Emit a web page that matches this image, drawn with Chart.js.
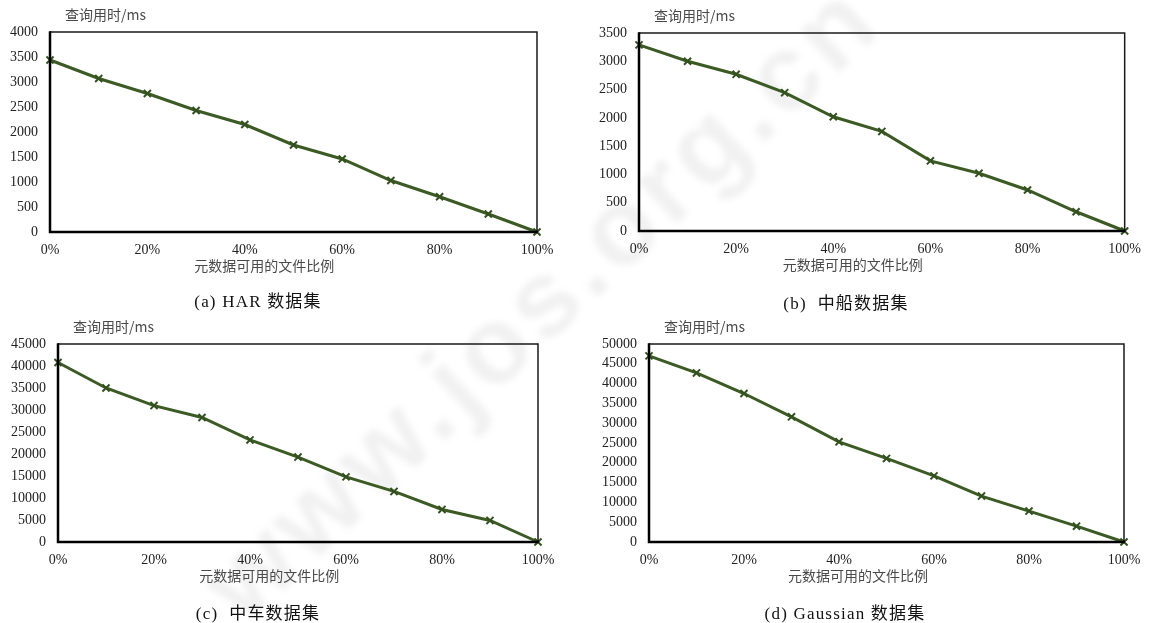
<!DOCTYPE html>
<html>
<head>
<meta charset="utf-8">
<script src="https://cdn.jsdelivr.net/npm/chart.js@4/dist/chart.umd.min.js"></script>
<style>
  html, body { margin: 0; padding: 0; background: #fff; }
  #page { position: relative; width: 1151px; height: 623px; overflow: hidden; background: #fff; }
  .panel { position: absolute; z-index: 2; }
  .caption { position: absolute; z-index: 3; transform: translate(-50%, -50%); white-space: nowrap;
             font-family: "Liberation Serif", "Noto Sans CJK SC", serif; font-size: 17px; color: #111;
             letter-spacing: 1.2px; }
  #mark { position: absolute; z-index: 1; left: 540px; top: 300px; white-space: nowrap;
          transform: translate(-50%, -50%) rotate(-43deg);
          font-family: "Liberation Sans", sans-serif; font-weight: bold; font-size: 108px;
          color: rgba(120,120,120,0.10); filter: blur(3px); letter-spacing: 6px; }
</style>
</head>
<body>
<div id="page">
  <div id="mark">www.jos.org.cn</div>
  <canvas id="cA" class="panel" style="left:0px;top:0px" width="575" height="311"></canvas>
  <canvas id="cB" class="panel" style="left:576px;top:0px" width="575" height="311"></canvas>
  <canvas id="cC" class="panel" style="left:0px;top:311px" width="575" height="312"></canvas>
  <canvas id="cD" class="panel" style="left:576px;top:311px" width="575" height="312"></canvas>
  <div class="caption" style="left:258px;top:299px">(a) HAR 数据集</div>
  <div class="caption" style="left:846px;top:301px">(b)&nbsp; 中船数据集</div>
  <div class="caption" style="left:258px;top:611px">(c)&nbsp; 中车数据集</div>
  <div class="caption" style="left:845px;top:611px">(d) Gaussian 数据集</div>
</div>
<script>
// Share of files whose metadata is available (%)
const percents = [0, 10, 20, 30, 40, 50, 60, 70, 80, 90, 100];

// Query time in ms for each dataset
const harTimes   = [3440, 3070, 2770, 2430, 2150, 1740, 1460, 1030, 705, 360, 0];
const shipTimes  = [3290, 3000, 2770, 2445, 2020, 1760, 1240, 1020, 725, 340, 0];
const carTimes   = [40800, 35000, 31000, 28300, 23200, 19300, 14800, 11500, 7400, 4900, 0];
const gaussTimes = [47000, 42700, 37500, 31600, 25300, 21100, 16700, 11600, 7800, 4000, 0];

// Axis settings per dataset
const yMaxes  = [4000, 3500, 45000, 50000];
const ySteps  = [500, 500, 5000, 5000];
const xTickStep = 20;

const yTitle = '查询用时/ms';
const xTitle = '元数据可用的文件比例';

const LINE = '#3b5a24';
const MARK = '#33501f';

// Frame around the plot plus the two Chinese axis titles
const framePlugin = {
  id: 'frame',
  afterDraw(chart) {
    const { ctx, chartArea: a } = chart;
    ctx.save();
    ctx.strokeStyle = '#1a1a1a';
    ctx.lineWidth = 1.5;
    ctx.beginPath();
    ctx.moveTo(a.left, a.top); ctx.lineTo(a.right, a.top); ctx.lineTo(a.right, a.bottom);
    ctx.stroke();
    ctx.strokeStyle = '#000';
    ctx.lineWidth = 2.5;
    ctx.beginPath();
    ctx.moveTo(a.left, a.top - 0.75); ctx.lineTo(a.left, a.bottom); ctx.lineTo(a.right + 0.75, a.bottom);
    ctx.stroke();
    ctx.fillStyle = '#4a4a4a';
    ctx.font = '14px "Noto Sans CJK SC", sans-serif';
    ctx.textBaseline = 'middle';
    ctx.textAlign = 'left';
    ctx.fillText(yTitle, a.left + 15, a.top - 17);
    ctx.textAlign = 'center';
    ctx.fillText(xTitle, a.left + 0.44 * (a.right - a.left), a.bottom + 34);
    ctx.restore();
  }
};

function makeChart(id, times, yMax, yStep, area) {
  const canvas = document.getElementById(id);
  const W = canvas.width, H = canvas.height;
  const xAxisH = 30;
  new Chart(canvas, {
    type: 'line',
    data: {
      datasets: [{
        data: percents.map((p, i) => ({ x: p, y: times[i] })),
        borderColor: LINE,
        borderWidth: 3,
        tension: 0,
        pointStyle: 'crossRot',
        pointRadius: 5,
        pointBorderWidth: 2,
        pointBorderColor: MARK,
        pointBackgroundColor: MARK,
        clip: false
      }]
    },
    options: {
      responsive: false,
      animation: false,
      events: [],
      layout: { padding: { left: 0, top: area.top, right: W - area.right, bottom: H - area.bottom - xAxisH } },
      plugins: { legend: { display: false }, tooltip: { enabled: false } },
      scales: {
        x: {
          type: 'linear', min: 0, max: 100,
          grid: { display: false, drawTicks: false },
          border: { display: false },
          afterFit(s) { s.height = xAxisH; },
          ticks: {
            stepSize: xTickStep, padding: 10, color: '#222', maxRotation: 0,
            font: { family: '"Liberation Serif", serif', size: 14 },
            callback: v => v + '%'
          }
        },
        y: {
          min: 0, max: yMax,
          grid: { display: false, drawTicks: false },
          border: { display: false },
          afterFit(s) { s.width = area.left; },
          ticks: {
            stepSize: yStep, padding: 12, color: '#222',
            font: { family: '"Liberation Serif", serif', size: 14 },
            callback: v => String(v)
          }
        }
      }
    },
    plugins: [framePlugin]
  });
}

makeChart('cA', harTimes,   yMaxes[0], ySteps[0], { left: 50, top: 32, right: 537, bottom: 232 });
makeChart('cB', shipTimes,  yMaxes[1], ySteps[1], { left: 63, top: 33, right: 549, bottom: 231 });
makeChart('cC', carTimes,   yMaxes[2], ySteps[2], { left: 58, top: 33, right: 538, bottom: 231 });
makeChart('cD', gaussTimes, yMaxes[3], ySteps[3], { left: 73, top: 33, right: 548, bottom: 231 });
</script>
</body>
</html>
